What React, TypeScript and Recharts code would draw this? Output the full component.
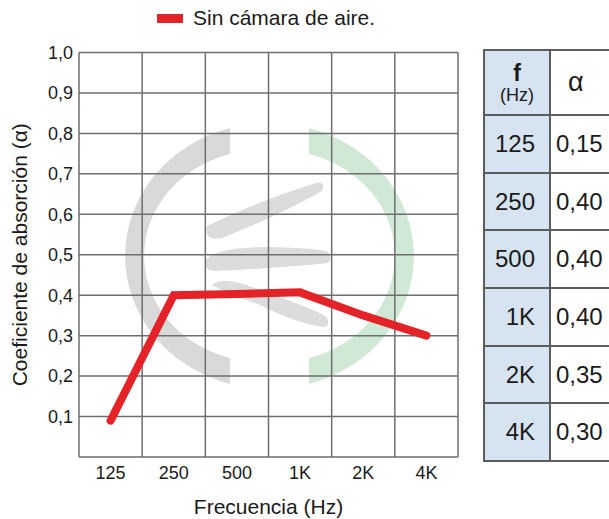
import { LineChart, Line, XAxis, YAxis, CartesianGrid, Legend } from "recharts";

const freqs = ["125", "250", "500", "1K", "2K", "4K"];
const curveAlpha = [0.09, 0.4, 0.403, 0.407, 0.35, 0.3];
const yTicks = [0, 0.1, 0.2, 0.3, 0.4, 0.5, 0.6, 0.7, 0.8, 0.9, 1.0];
const tableAlpha = ["0,15", "0,40", "0,40", "0,40", "0,35", "0,30"];

const data = freqs.map((f, i) => ({ f, alpha: curveAlpha[i] }));

const FONT = '"Liberation Sans", Arial, sans-serif';
const GRID = "#6e6e6e";
const RED = "#e32327";

function Watermark() {
  return (
    <svg width={609} height={519} style={{ position: "absolute", left: 0, top: 0 }}>
      <path d="M 230 128 A 144 133 0 0 0 230 384 L 230 358 A 118 106 0 0 1 230 154 Z" fill="#d9d9d9" />
      <path d="M 309 128 A 144 133 0 0 1 309 384 L 309 358 A 118 106 0 0 0 309 154 Z" fill="#d0e9d7" />
      <path d="M 207 226 Q 260 200 316 183 Q 326 181 322 191 Q 280 215 222 238 Q 204 242 207 226 Z" fill="#dcdcdc" />
      <path d="M 205 262 Q 210 248 265 247 Q 320 248 328 252 Q 333 258 328 263 Q 280 268 215 271 Q 204 270 205 262 Z" fill="#dcdcdc" />
      <path d="M 212 285 Q 220 278 240 283 Q 290 300 322 314 Q 332 320 326 327 Q 300 325 260 305 Q 225 292 212 285 Z" fill="#dcdcdc" />
    </svg>
  );
}

function LegendBox() {
  return (
    <div style={{ display: "flex", alignItems: "center", fontFamily: FONT, fontSize: 21, color: "#1a1a1a", whiteSpace: "nowrap" }}>
      <span style={{ display: "inline-block", width: 26, height: 9, background: RED, marginRight: 10 }} />
      <span>Sin cámara de aire.</span>
    </div>
  );
}

const cell: React.CSSProperties = {
  border: "2px solid #5c5c5c",
  fontSize: 24,
  padding: 0,
  height: 57.7,
  boxSizing: "border-box",
};

function ValuesTable() {
  return (
    <table
      style={{
        position: "absolute",
        left: 483,
        top: 49,
        borderCollapse: "collapse",
        tableLayout: "fixed",
        width: 150,
        fontFamily: FONT,
        color: "#1a1a1a",
      }}
    >
      <colgroup>
        <col style={{ width: 66 }} />
        <col style={{ width: 84 }} />
      </colgroup>
      <tbody>
        <tr>
          <td style={{ ...cell, height: 65, background: "#d6e3f1", textAlign: "center", lineHeight: 1 }}>
            <div style={{ fontWeight: "bold", fontSize: 23 }}>f</div>
            <div style={{ fontSize: 18, marginTop: 1 }}>(Hz)</div>
          </td>
          <td style={{ ...cell, height: 65, textAlign: "left", fontSize: 27, paddingLeft: 17 }}>α</td>
        </tr>
        {freqs.map((f, i) => (
          <tr key={f}>
            <td style={{ ...cell, background: "#d6e3f1", textAlign: "right", paddingRight: 14 }}>{f}</td>
            <td style={{ ...cell, textAlign: "left", paddingLeft: 5 }}>{tableAlpha[i]}</td>
          </tr>
        ))}
      </tbody>
    </table>
  );
}

export default function App() {
  return (
    <div style={{ position: "absolute", left: 0, top: 0, width: 609, height: 519, overflow: "hidden", background: "#fff" }}>
      <Watermark />
      <div style={{ position: "absolute", left: 0, top: 0 }}>
        <LineChart width={470} height={519} data={data} margin={{ top: 52.5, right: 12, left: 0, bottom: 0 }}>
          <CartesianGrid
            stroke={GRID}
            strokeWidth={1.5}
            verticalCoordinatesGenerator={({ offset }: any) =>
              Array.from({ length: freqs.length + 1 }, (_, i) => offset.left + (i * offset.width) / freqs.length)
            }
          />
          <XAxis
            dataKey="f"
            height={62}
            axisLine={false}
            tickLine={false}
            tickSize={0}
            tickMargin={9}
            padding={{ left: 31.6, right: 31.6 }}
            tick={{ fill: "#1a1a1a", fontSize: 18, fontFamily: FONT }}
            label={{ value: "Frecuencia (Hz)", position: "insideBottom", offset: 5, fill: "#1a1a1a", fontSize: 21, fontFamily: FONT }}
          />
          <YAxis
            width={79}
            domain={[0, 1]}
            ticks={yTicks}
            interval={0}
            axisLine={false}
            tickLine={false}
            tickSize={0}
            tickMargin={6}
            tickFormatter={(v: number) => (v === 0 ? "" : v.toFixed(1).replace(".", ","))}
            tick={{ fill: "#1a1a1a", fontSize: 18, fontFamily: FONT }}
            label={{
              value: "Coeficiente de absorción (α)",
              angle: -90,
              position: "insideLeft",
              offset: 20,
              fill: "#1a1a1a",
              fontSize: 21,
              fontFamily: FONT,
              style: { textAnchor: "middle" },
            }}
          />
          <Legend
            layout="vertical"
            align="center"
            verticalAlign="middle"
            wrapperStyle={{ top: 6, left: 157, width: "auto", height: "auto" }}
            content={() => <LegendBox />}
          />
          <Line
            type="linear"
            dataKey="alpha"
            stroke={RED}
            strokeWidth={8}
            strokeLinecap="round"
            dot={false}
            activeDot={false}
            isAnimationActive={false}
          />
        </LineChart>
      </div>
      <ValuesTable />
    </div>
  );
}
